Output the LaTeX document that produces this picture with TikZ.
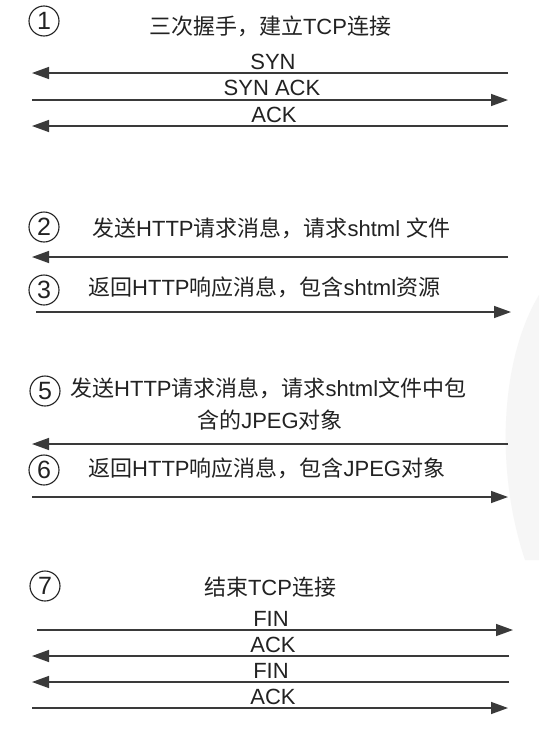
\documentclass[tikz,border=0pt]{standalone}
\usepackage{fontspec}
\setmainfont{Liberation Sans}
\newfontfamily\cjk{Noto Sans CJK SC}
\usetikzlibrary{arrows.meta}
\definecolor{ink}{HTML}{222222}
\definecolor{lin}{HTML}{3A3A3A}
\newcommand{\zh}[1]{{\cjk #1}}
\tikzset{
  msg/.style={draw=lin, line width=1.4pt, -{Triangle[length=17pt,width=12pt]}},
  lbl/.style={text=ink, font=\fontsize{22}{26}\selectfont, inner sep=0pt},
  txt/.style={text=ink, font=\fontsize{22}{26}\selectfont, inner sep=0pt, anchor=west},
  num/.style={draw=ink, circle, line width=1.1pt, minimum size=30pt, inner sep=0pt, text=ink, font=\fontsize{25}{27}\selectfont}
}
\begin{document}
\begin{tikzpicture}[x=1pt,y=-1pt]
\useasboundingbox[fill=white] (0,0) rectangle (539,734);
% faint page curl at right
\fill[gray!7] (539,295) .. controls (500,360) and (495,470) .. (525,560) -- (539,560) -- cycle;

% section 1
\node[num] (n1) at (44,21) {1};
\node[lbl] (t1) at (270,26) {\zh{三次握手，建立}TCP\zh{连接}};
\coordinate (a1L) at (32,73);  \coordinate (a1R) at (508,73);
\coordinate (a2L) at (32,100); \coordinate (a2R) at (508,100);
\coordinate (a3L) at (32,126); \coordinate (a3R) at (508,126);
\node[lbl] (l1) at (273,62) {SYN};
\node[lbl] (l2) at (272,88) {SYN ACK};
\node[lbl] (l3) at (274,115) {ACK};
\draw[msg] (a1R) -- (a1L);
\draw[msg] (a2L) -- (a2R);
\draw[msg] (a3R) -- (a3L);

% section 2
\node[num] (n2) at (44,227) {2};
\node[txt] (t2) at (92,228) {\zh{发送}HTTP\zh{请求消息，请求}shtml \zh{文件}};
\coordinate (b1L) at (32,257); \coordinate (b1R) at (508,257);
\draw[msg] (b1R) -- (b1L);

% section 3
\node[num] (n3) at (44,290) {3};
\node[txt] (t3) at (88,287) {\zh{返回}HTTP\zh{响应消息，包含}shtml\zh{资源}};
\coordinate (c1L) at (36,312); \coordinate (c1R) at (511,312);
\draw[msg] (c1L) -- (c1R);

% section 5
\node[num] (n5) at (45,391) {5};
\node[txt] (t5) at (70,388) {\zh{发送}HTTP\zh{请求消息，请求}shtml\zh{文件中包}};
\node[lbl] (t5b) at (270,420) {\zh{含的}JPEG\zh{对象}};
\coordinate (d1L) at (32,444); \coordinate (d1R) at (508,444);
\draw[msg] (d1R) -- (d1L);

% section 6
\node[num] (n6) at (44,470) {6};
\node[txt] (t6) at (88,468) {\zh{返回}HTTP\zh{响应消息，包含}JPEG\zh{对象}};
\coordinate (e1L) at (32,497); \coordinate (e1R) at (508,497);
\draw[msg] (e1L) -- (e1R);

% section 7
\node[num] (n7) at (45,586) {7};
\node[lbl] (t7) at (270,587) {\zh{结束}TCP\zh{连接}};
\coordinate (f1L) at (37,630); \coordinate (f1R) at (513,630);
\coordinate (f2L) at (32,656); \coordinate (f2R) at (509,656);
\coordinate (f3L) at (32,682); \coordinate (f3R) at (509,682);
\coordinate (f4L) at (32,708); \coordinate (f4R) at (508,708);
\node[lbl] (m1) at (271,619) {FIN};
\node[lbl] (m2) at (273,645) {ACK};
\node[lbl] (m3) at (271,671) {FIN};
\node[lbl] (m4) at (273,697) {ACK};
\draw[msg] (f1L) -- (f1R);
\draw[msg] (f2R) -- (f2L);
\draw[msg] (f3R) -- (f3L);
\draw[msg] (f4L) -- (f4R);
\end{tikzpicture}
\end{document}
